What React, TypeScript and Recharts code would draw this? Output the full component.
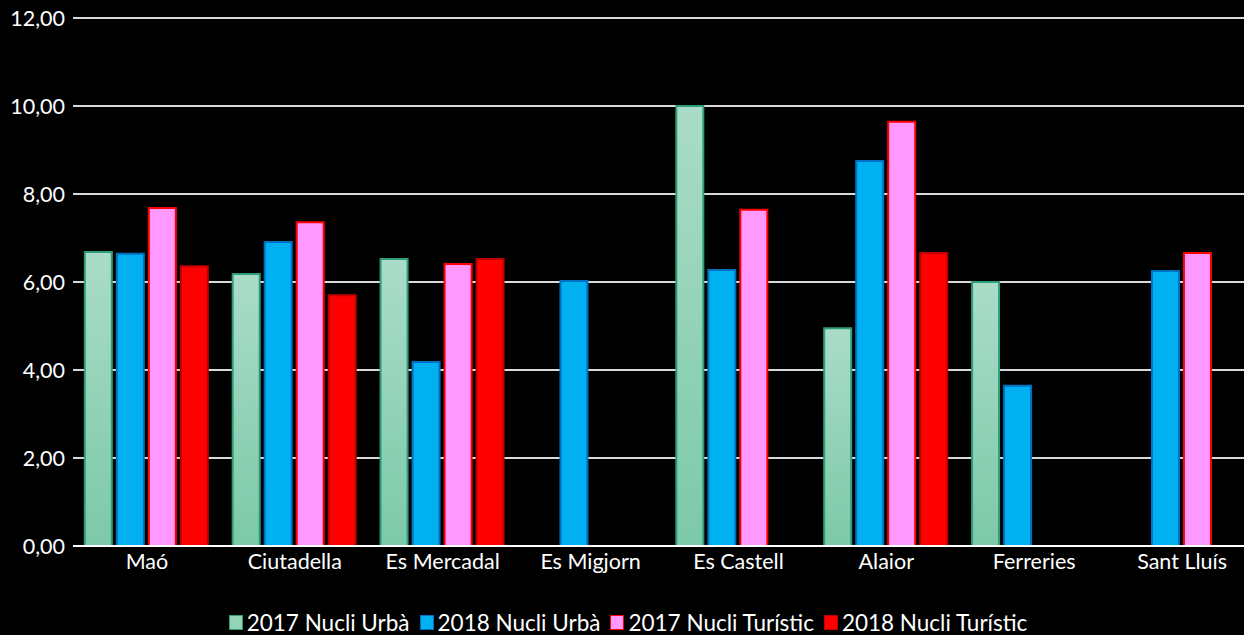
import React from 'react';
import { BarChart, Bar, XAxis, YAxis, CartesianGrid, Legend } from 'recharts';

// Municipis de Menorca
const categories = ['Maó', 'Ciutadella', 'Es Mercadal', 'Es Migjorn', 'Es Castell', 'Alaior', 'Ferreries', 'Sant Lluís'];

const urba2017: (number | null)[] = [6.68, 6.18, 6.52, null, 10.0, 4.95, 6.0, null];
const urba2018: (number | null)[] = [6.64, 6.91, 4.18, 6.02, 6.27, 8.75, 3.64, 6.25];
const turistic2017: (number | null)[] = [7.68, 7.36, 6.41, null, 7.64, 9.64, null, 6.66];
const turistic2018: (number | null)[] = [6.36, 5.7, 6.52, null, null, 6.66, null, null];

const yTicks = [0, 2, 4, 6, 8, 10, 12];

const series = [
  { key: 'u17', name: '2017 Nucli Urbà', fill: 'url(#greenGrad)', swatch: '#93d3b8', stroke: '#2e9e7a' },
  { key: 'u18', name: '2018 Nucli Urbà', fill: '#00b0f0', swatch: '#00b0f0', stroke: '#0070c0' },
  { key: 't17', name: '2017 Nucli Turístic', fill: '#ff99ff', swatch: '#ff99ff', stroke: '#ff0000' },
  { key: 't18', name: '2018 Nucli Turístic', fill: '#ff0000', swatch: '#ff0000', stroke: '#c00000' },
];

const chartData = categories.map((name, i) => ({
  name,
  u17: urba2017[i],
  u18: urba2018[i],
  t17: turistic2017[i],
  t18: turistic2018[i],
}));

const FONT = 'Lato, "Open Sans", sans-serif';

function LegendContent() {
  return (
    <div
      style={{
        position: 'absolute',
        left: 0,
        top: 0,
        width: 1266,
        display: 'flex',
        justifyContent: 'center',
        alignItems: 'center',
        paddingTop: 24,
        height: 25,
        fontFamily: FONT,
        fontSize: 22.5,
        color: '#fff',
      }}
    >
      {series.map((s) => (
        <div key={s.key} style={{ display: 'flex', alignItems: 'center', marginRight: 10 }}>
          <span
            style={{
              display: 'inline-block',
              width: 12,
              height: 13,
              background: s.swatch,
              border: `1.5px solid ${s.stroke}`,
              marginRight: 4,
            }}
          />
          <span>{s.name}</span>
        </div>
      ))}
    </div>
  );
}

export default function App() {
  return (
    <div
      style={{
        position: 'absolute',
        left: 0,
        top: 0,
        width: 1244,
        height: 635,
        background: '#000',
        overflow: 'hidden',
      }}
    >
      <BarChart
        width={1256}
        height={635}
        data={chartData}
        margin={{ top: 18, right: 0, left: 0, bottom: 0 }}
        barCategoryGap="8%"
        barGap={5}
      >
        <defs>
          <linearGradient id="greenGrad" x1="0" y1="0" x2="0" y2="1">
            <stop offset="0%" stopColor="#aadcc7" />
            <stop offset="100%" stopColor="#7cc9a9" />
          </linearGradient>
        </defs>
        <CartesianGrid vertical={false} stroke="#d9d9d9" strokeWidth={2} />
        <XAxis
          dataKey="name"
          axisLine={{ stroke: '#ffffff', strokeWidth: 2 }}
          tickLine={false}
          height={40}
          interval={0}
          tick={{ fill: '#ffffff', fontSize: 21.5, fontFamily: FONT }}
        />
        <YAxis
          width={73}
          domain={[0, 12]}
          ticks={yTicks}
          axisLine={false}
          tickLine={false}
          tickFormatter={(v: number) => v.toFixed(2).replace('.', ',')}
          tick={{ fill: '#ffffff', fontSize: 21.5, fontFamily: FONT }}
        />
        <Legend verticalAlign="bottom" content={<LegendContent />} wrapperStyle={{ height: 49 }} />
        {series.map((s) => (
          <Bar
            key={s.key}
            dataKey={s.key}
            name={s.name}
            fill={s.fill}
            stroke={s.stroke}
            strokeWidth={2}
            isAnimationActive={false}
          />
        ))}
      </BarChart>
    </div>
  );
}
